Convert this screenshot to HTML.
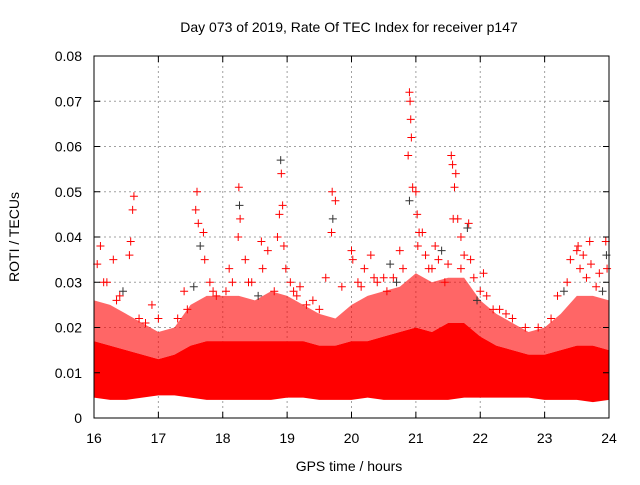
<!DOCTYPE html>
<html><head><meta charset="utf-8"><style>
body{margin:0;background:#fff;width:640px;height:480px;overflow:hidden}
svg text{font-family:"Liberation Sans",sans-serif;font-size:14px;fill:#000}
</style></head><body>
<svg id="chart" width="640" height="480">
<text x="349" y="32" text-anchor="middle">Day 073 of 2019, Rate Of TEC Index for receiver p147</text>
<text x="349" y="471" text-anchor="middle">GPS time / hours</text>
<text transform="translate(19,237) rotate(-90)" text-anchor="middle">ROTI / TECUs</text>
<g id="grid"></g><g id="marks"></g><g id="axes"></g>
</svg>
<script>
const xTicks=[16,17,18,19,20,21,22,23,24];
const yTicks=[0,0.01,0.02,0.03,0.04,0.05,0.06,0.07,0.08];
const yTickLabels=["0","0.01","0.02","0.03","0.04","0.05","0.06","0.07","0.08"];
const bandHours=[16,16.25,16.5,16.75,17,17.25,17.5,17.75,18,18.25,18.5,18.75,19,19.25,19.5,19.75,20,20.25,20.5,20.75,21,21.25,21.5,21.75,22,22.25,22.5,22.75,23,23.25,23.5,23.75,24];
const bandLow=[0.0045,0.004,0.004,0.0045,0.005,0.005,0.0045,0.004,0.004,0.004,0.004,0.004,0.0045,0.0045,0.004,0.004,0.004,0.0045,0.004,0.004,0.004,0.004,0.004,0.0045,0.0045,0.0045,0.0045,0.0045,0.004,0.004,0.004,0.0035,0.004];
const bandHigh=[0.017,0.016,0.015,0.014,0.013,0.014,0.016,0.017,0.017,0.017,0.017,0.017,0.017,0.017,0.016,0.016,0.017,0.017,0.018,0.019,0.02,0.019,0.021,0.021,0.018,0.016,0.015,0.014,0.014,0.015,0.016,0.016,0.015];
const midHigh=[0.026,0.025,0.023,0.021,0.019,0.02,0.025,0.027,0.027,0.027,0.026,0.028,0.027,0.025,0.023,0.022,0.025,0.027,0.028,0.029,0.032,0.03,0.031,0.031,0.026,0.023,0.021,0.019,0.02,0.023,0.027,0.027,0.026];
const ptHours=[16.05,16.1,16.15,16.3,16.45,16.55,16.57,16.6,16.62,16.9,17.0,17.6,17.62,17.65,17.58,17.7,17.72,17.8,17.85,18.05,18.1,18.25,18.26,18.27,18.24,18.35,18.6,18.62,18.7,18.85,18.88,18.9,18.91,18.93,18.95,18.98,19.2,19.3,19.6,19.7,19.71,19.69,19.75,20.0,20.02,20.2,20.3,20.5,20.55,20.6,20.75,20.8,20.9,20.91,20.92,20.93,20.88,20.95,20.9,21.0,21.02,21.05,21.03,21.1,21.15,21.3,21.35,21.4,21.55,21.57,21.6,21.58,21.62,21.65,21.7,21.75,21.8,21.82,21.85,21.9,22.0,22.05,22.3,22.5,23.1,23.3,23.4,23.5,23.52,23.6,23.7,23.72,23.85,23.95,23.96,23.97,16.2,16.4,16.8,17.3,17.4,17.9,18.45,18.55,19.1,19.4,19.85,20.1,20.4,20.65,21.2,21.45,21.95,22.2,22.7,22.9,23.2,23.8,16.35,16.7,17.45,17.55,18.15,18.4,18.8,19.05,19.15,19.5,20.15,20.35,20.7,21.25,21.5,21.7,22.1,22.4,23.35,23.55,23.65,23.9];
const ptValues=[0.034,0.038,0.03,0.035,0.028,0.036,0.039,0.046,0.049,0.025,0.022,0.05,0.043,0.038,0.046,0.041,0.035,0.03,0.028,0.028,0.033,0.051,0.047,0.044,0.04,0.035,0.039,0.033,0.037,0.04,0.045,0.057,0.054,0.047,0.038,0.033,0.029,0.025,0.031,0.05,0.044,0.041,0.048,0.037,0.035,0.033,0.036,0.031,0.028,0.034,0.037,0.033,0.072,0.07,0.066,0.062,0.058,0.051,0.048,0.05,0.045,0.041,0.038,0.041,0.036,0.038,0.035,0.037,0.058,0.056,0.051,0.044,0.054,0.044,0.04,0.036,0.042,0.043,0.035,0.031,0.028,0.032,0.024,0.022,0.022,0.028,0.035,0.037,0.038,0.036,0.039,0.034,0.032,0.039,0.036,0.033,0.03,0.027,0.021,0.022,0.028,0.027,0.03,0.027,0.028,0.026,0.029,0.03,0.03,0.031,0.033,0.03,0.026,0.024,0.02,0.02,0.027,0.029,0.026,0.022,0.024,0.029,0.03,0.03,0.028,0.03,0.027,0.024,0.029,0.031,0.03,0.033,0.034,0.033,0.027,0.023,0.03,0.033,0.031,0.028];
const X=h=>94+(h-16)*(609-94)/8;
const Y=v=>418-v*(418-56)/0.08;
const NS="http://www.w3.org/2000/svg";
const grid=document.getElementById('grid'),marks=document.getElementById('marks'),axes=document.getElementById('axes');
function mk(tag,attrs,parent){const e=document.createElementNS(NS,tag);for(const k in attrs)e.setAttribute(k,attrs[k]);parent.appendChild(e);return e;}
xTicks.forEach((t,i)=>{
  if(i>0&&i<xTicks.length-1){const g=mk('line',{x1:X(t),x2:X(t),y1:56,y2:418,stroke:'#a0a0a0','stroke-dasharray':'2,3'},grid);
  
  }
  const tl=mk('text',{x:X(t),y:443,'text-anchor':'middle'},axes);tl.textContent=t;
  
  
  mk('line',{x1:X(t),x2:X(t),y1:418,y2:412,stroke:'#000'},axes);
  mk('line',{x1:X(t),x2:X(t),y1:56,y2:62,stroke:'#000'},axes);
});
yTicks.forEach((t,i)=>{
  if(i>0&&i<yTicks.length-1){const g=mk('line',{x1:94,x2:609,y1:Y(t),y2:Y(t),stroke:'#a0a0a0','stroke-dasharray':'2,3'},grid);
  
  }
  const tl=mk('text',{x:82,y:Y(t)+5,'text-anchor':'end'},axes);tl.textContent=yTickLabels[i];
  
  
  mk('line',{x1:94,x2:100,y1:Y(t),y2:Y(t),stroke:'#000'},axes);
  mk('line',{x1:609,x2:603,y1:Y(t),y2:Y(t),stroke:'#000'},axes);
});
function area(hi,lo,op,name){
  let d='M'+bandHours.map((h,i)=>X(h)+','+Y(hi[i])).join('L');
  for(let i=bandHours.length-1;i>=0;i--)d+='L'+X(bandHours[i])+','+Y(lo[i]);
  const p=mk('path',{d:d+'Z',fill:'#ff0000','fill-opacity':op},marks);
  
  
}
area(midHigh,bandHigh,0.6,'sparse-roti-band');
area(bandHigh,bandLow,1,'dense-roti-band');
ptHours.forEach((h,i)=>{
  const x=X(h),y=Y(ptValues[i]);
  const p=mk('path',{d:`M${x-4},${y}H${x+4}M${x},${y-4}V${y+4}`,stroke:i%9===4?'#333':'#ff0000','stroke-width':1},marks);
  
  
});
const f=mk('rect',{x:94,y:56,width:515,height:362,fill:'none',stroke:'#000'},axes);


</script>
</body></html>
